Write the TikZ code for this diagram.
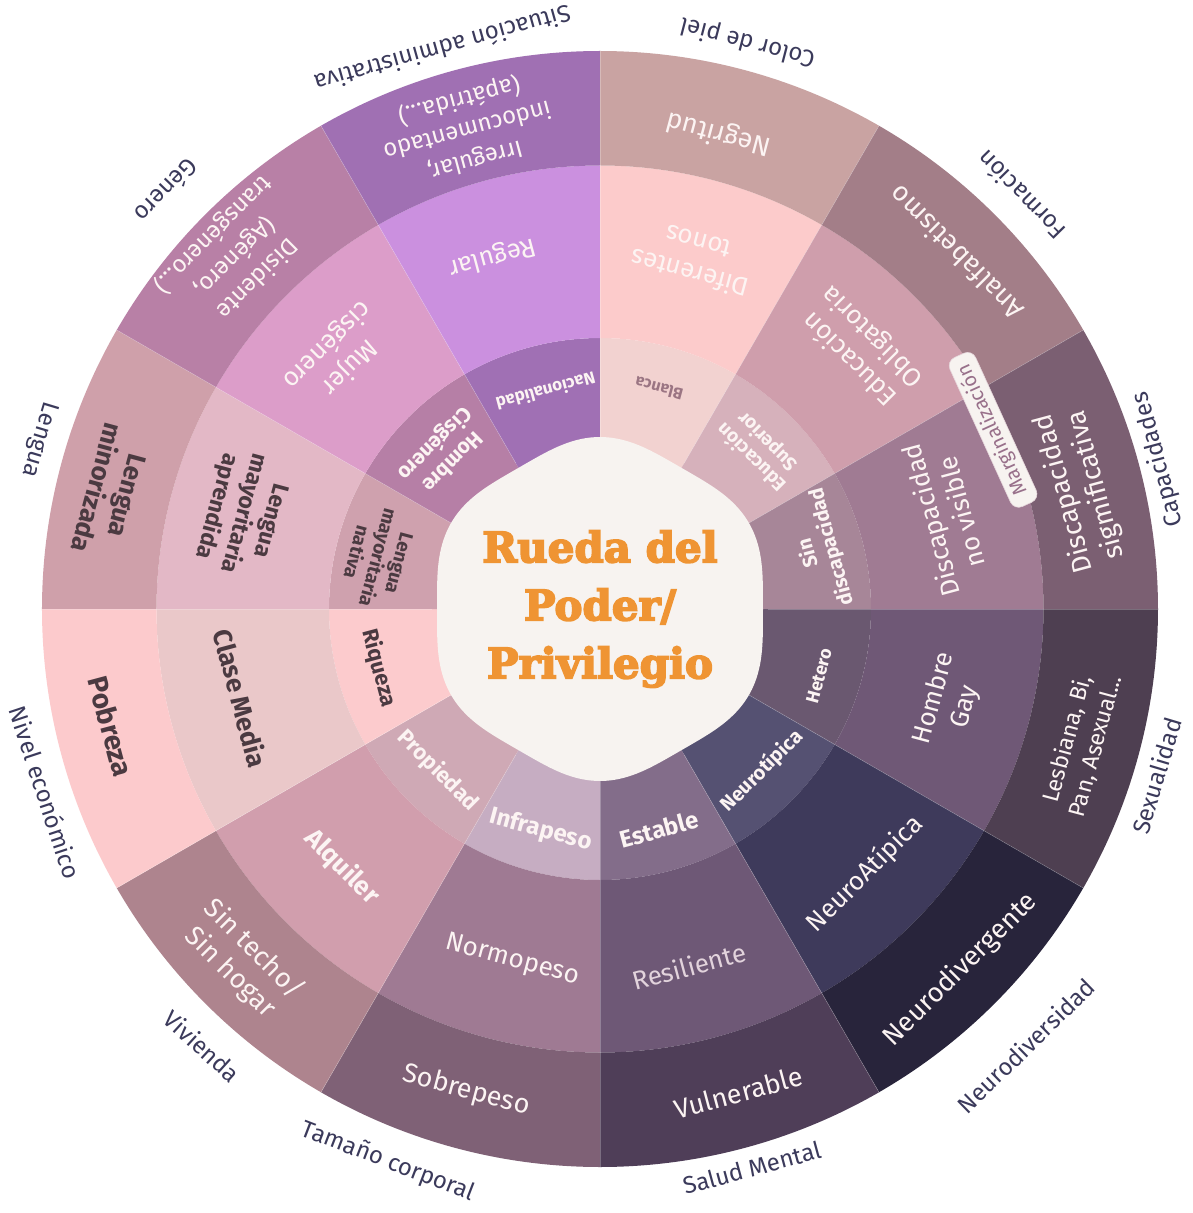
\documentclass[tikz,border=0pt]{standalone}
\usepackage{fontspec}
\setmainfont{Fira Sans}
\newfontfamily\titlefont{DejaVu Serif}[BoldFeatures={FakeBold=4}]
\definecolor{aI}{HTML}{F2D2D0}\definecolor{aM}{HTML}{FCCBCB}\definecolor{aO}{HTML}{C9A3A2}
\definecolor{bI}{HTML}{D6B1BB}\definecolor{bM}{HTML}{CF9EAC}\definecolor{bO}{HTML}{A37E88}
\definecolor{cI}{HTML}{A78698}\definecolor{cM}{HTML}{A07B93}\definecolor{cO}{HTML}{7B5F72}
\definecolor{dI}{HTML}{6A5870}\definecolor{dM}{HTML}{6F5876}\definecolor{dO}{HTML}{4E3F51}
\definecolor{eI}{HTML}{555172}\definecolor{eM}{HTML}{3E3A5B}\definecolor{eO}{HTML}{28243B}
\definecolor{fI}{HTML}{836D8A}\definecolor{fM}{HTML}{6E5876}\definecolor{fO}{HTML}{4F3E58}
\definecolor{gI}{HTML}{C6ADC2}\definecolor{gM}{HTML}{9F7A93}\definecolor{gO}{HTML}{7F6176}
\definecolor{hI}{HTML}{CFA9B5}\definecolor{hM}{HTML}{D19EAD}\definecolor{hO}{HTML}{AE848E}
\definecolor{iI}{HTML}{FCCBCD}\definecolor{iM}{HTML}{EAC8C9}\definecolor{iO}{HTML}{FCCACC}
\definecolor{jI}{HTML}{CFA1AE}\definecolor{jM}{HTML}{E3B8C6}\definecolor{jO}{HTML}{CFA0AA}
\definecolor{kI}{HTML}{B67FA6}\definecolor{kM}{HTML}{DC9DC9}\definecolor{kO}{HTML}{B880A6}
\definecolor{lI}{HTML}{A070B4}\definecolor{lM}{HTML}{CB90DF}\definecolor{lO}{HTML}{A070B3}
\definecolor{blobc}{HTML}{F7F3F0}
\definecolor{titlec}{HTML}{EF9433}
\definecolor{wtxt}{HTML}{FCF4F3}
\definecolor{dtxt}{HTML}{4B3A41}
\definecolor{ctxt}{HTML}{3B3A5B}
\definecolor{mauvetxt}{HTML}{9B7583}
\definecolor{restxt}{HTML}{E2D3DC}
\definecolor{margtxt}{HTML}{98708A}
\definecolor{margedge}{HTML}{E6D6DB}
\tikzset{
  lbl/.style={align=center, inner sep=0pt, text=wtxt},
  inl/.style={lbl, font=\bfseries\fontsize{20}{24}\selectfont},
  midl/.style={lbl, font=\fontsize{26}{32}\selectfont},
  outl/.style={lbl, font=\fontsize{27}{33}\selectfont},
  dark/.style={text=dtxt},
  cat/.style={inner sep=0pt, text=ctxt, font=\fontsize{24}{29}\selectfont},
  seam/.style={white, opacity=0.25, line width=0.6pt},
  margbox/.style={draw=margedge, line width=0.6pt, fill=blobc, rounded corners=9pt,
    text=margtxt, font=\fontsize{20}{22}\selectfont, inner xsep=11pt, inner ysep=4pt},
  titlestyle/.style={align=center, text=titlec, font=\titlefont\bfseries\fontsize{42}{58}\selectfont}
}
\begin{document}
\begin{tikzpicture}[x=1pt,y=1pt]
\useasboundingbox (-600,-604) rectangle (592,609);
\fill[white] (-600,-604) rectangle (592,609);
% sectors
\foreach \m/\ci/\cm/\co in {75/aI/aM/aO,45/bI/bM/bO,15/cI/cM/cO,-15/dI/dM/dO,-45/eI/eM/eO,-75/fI/fM/fO,-105/gI/gM/gO,-135/hI/hM/hO,-165/iI/iM/iO,165/jI/jM/jO,135/kI/kM/kO,105/lI/lM/lO}{
  \pgfmathsetmacro\a{\m-15}
  \pgfmathsetmacro\b{\m+15}
  \fill[\ci] (\a:100) arc[start angle=\a,end angle=\b,radius=100] -- (\b:271) arc[start angle=\b,end angle=\a,radius=271] -- cycle;
  \fill[\cm] (\a:271) arc[start angle=\a,end angle=\b,radius=271] -- (\b:443.5) arc[start angle=\b,end angle=\a,radius=443.5] -- cycle;
  \fill[\co] (\a:443.5) arc[start angle=\a,end angle=\b,radius=443.5] -- (\b:558) arc[start angle=\b,end angle=\a,radius=558] -- cycle;
}
\foreach \t in {0,30,...,330}{\draw[seam] (\t:168) -- (\t:558);}
% centre blob
\fill[blobc] plot[domain=0:359,samples=240,variable=\t] (\t:{167.5-4.5*cos(6*\t)}) -- cycle;
\node[titlestyle] (title) at (0,0) {Rueda del\\Poder/\\Privilegio};
% inner ring
\node[inl, rotate=165, text=mauvetxt, font=\bfseries\fontsize{16}{18}\selectfont] (blanca) at (75:228) {Blanca};
\node[inl, rotate=135, font=\bfseries\fontsize{19}{22}\selectfont] (edsup) at (45:226) {Educación\\Superior};
\node[inl, rotate=105] (sindis) at (15:228) {Sin\\discapacidad};
\node[inl, rotate=75, font=\bfseries\fontsize{18}{22}\selectfont] (hetero) at (-17:229) {Hetero};
\node[inl, rotate=45] (neurot) at (-45:229) {Neurotípica};
\node[inl, rotate=15, font=\bfseries\fontsize{24}{28}\selectfont] (estable) at (-75:228) {Estable};
\node[inl, rotate=-15, font=\bfseries\fontsize{24}{28}\selectfont] (infra) at (-105:229) {Infrapeso};
\node[inl, rotate=-45, font=\bfseries\fontsize{22}{26}\selectfont] (prop) at (-135:229) {Propiedad};
\node[inl, dark, rotate=-75, font=\bfseries\fontsize{22}{26}\selectfont] (riq) at (-165:229) {Riqueza};
\node[inl, dark, rotate=255, font=\bfseries\fontsize{19}{22}\selectfont] (lnat) at (167:228) {Lengua\\mayoritaria\\nativa};
\node[inl, rotate=225, font=\bfseries\fontsize{21}{25}\selectfont] (hcis) at (135:222) {Hombre\\Cisgénero};
\node[inl, rotate=195, font=\bfseries\fontsize{17}{20}\selectfont] (nac) at (104:224) {Nacionalidad};
% middle ring
\node[midl, rotate=165] (tonos) at (75:363) {Diferentes\\tonos};
\node[midl, rotate=135] (edobl) at (45:370) {Educación\\Obligatoria};
\node[midl, rotate=105] (novis) at (15:358) {Discapacidad\\no visible};
\node[midl, rotate=75] (gay) at (-15:362) {Hombre\\Gay};
\node[midl, rotate=45] (neuroat) at (-45:375) {NeuroAtípica};
\node[midl, rotate=15, text=restxt] (resil) at (-76:368) {Resiliente};
\node[midl, rotate=-15] (normo) at (-104:362) {Normopeso};
\node[midl, rotate=-45, font=\bfseries\fontsize{26}{30}\selectfont] (alq) at (-135:365) {Alquiler};
\node[midl, dark, rotate=-75, font=\bfseries\fontsize{26}{30}\selectfont] (clase) at (-166:370) {Clase Media};
\node[midl, dark, rotate=255, font=\bfseries\fontsize{23}{28}\selectfont] (lapr) at (165:370) {Lengua\\mayoritaria\\aprendida};
\node[midl, rotate=225] (mujer) at (136:364) {Mujer\\cisgénero};
\node[midl, rotate=195] (regular) at (107:368) {Regular};
% outer ring
\node[outl, rotate=165] (negr) at (76:490) {Negritud};
\node[outl, rotate=135] (analf) at (45:503) {Analfabetismo};
\node[outl, rotate=105] (signif) at (14:495) {Discapacidad\\sigmificativa};
\node[outl, rotate=75, font=\fontsize{23}{29}\selectfont] (lesb) at (-15.5:500) {Lesbiana, Bi,\\Pan, Asexual...};
\node[outl, rotate=45] (neurodiv) at (-45:510) {Neurodivergente};
\node[outl, rotate=15] (vuln) at (-74:503) {Vulnerable};
\node[outl, rotate=-15] (sobre) at (-105.5:500) {Sobrepeso};
\node[outl, rotate=-45] (sintecho) at (-135.5:502) {Sin techo/\\Sin hogar};
\node[outl, dark, rotate=-75, font=\bfseries\fontsize{28}{33}\selectfont] (pobreza) at (-166.5:503) {Pobreza};
\node[outl, dark, rotate=255, font=\bfseries\fontsize{26}{31}\selectfont] (lmin) at (166.5:502) {Lengua\\minorizada};
\node[outl, rotate=225, font=\fontsize{24}{31}\selectfont] (disid) at (136:508) {Disidente\\(Agénero,\\transgénero...)};
\node[outl, rotate=195, font=\fontsize{24}{31}\selectfont] (irreg) at (105.5:498) {Irregular,\\indocumentado\\(apátrida...)};
% Marginalizacion tag
\node[margbox, rotate=114.5] (marg) at (24.5:432) {Marginalización};
% category labels
\node[cat, rotate=165.4] (catpiel) at (75.4:586) {Color de piel};
\node[cat, rotate=134.5] (catform) at (44.5:590) {Formación};
\node[cat, rotate=105] (catcap) at (15:578) {Capacidades};
\node[cat, rotate=73.3] (catsex) at (-16.7:581) {Sexualidad};
\node[cat, rotate=44.3] (catneuro) at (-45.7:610) {Neurodiversidad};
\node[cat, rotate=15.2] (catsalud) at (-74.8:579) {Salud Mental};
\node[cat, rotate=-21] (cattam) at (-111:592) {Tamaño corporal};
\node[cat, rotate=-42.3] (catviv) at (-132.3:591) {Vivienda};
\node[cat, rotate=-71.7] (catniv) at (-161.7:584) {Nivel económico};
\node[cat, rotate=253.2] (catleng) at (163.2:586) {Lengua};
\node[cat, rotate=226] (catgen) at (136:602) {Género};
\node[cat, rotate=195.7] (catsit) at (105.7:581) {Situación administrativa};
\end{tikzpicture}
\end{document}
